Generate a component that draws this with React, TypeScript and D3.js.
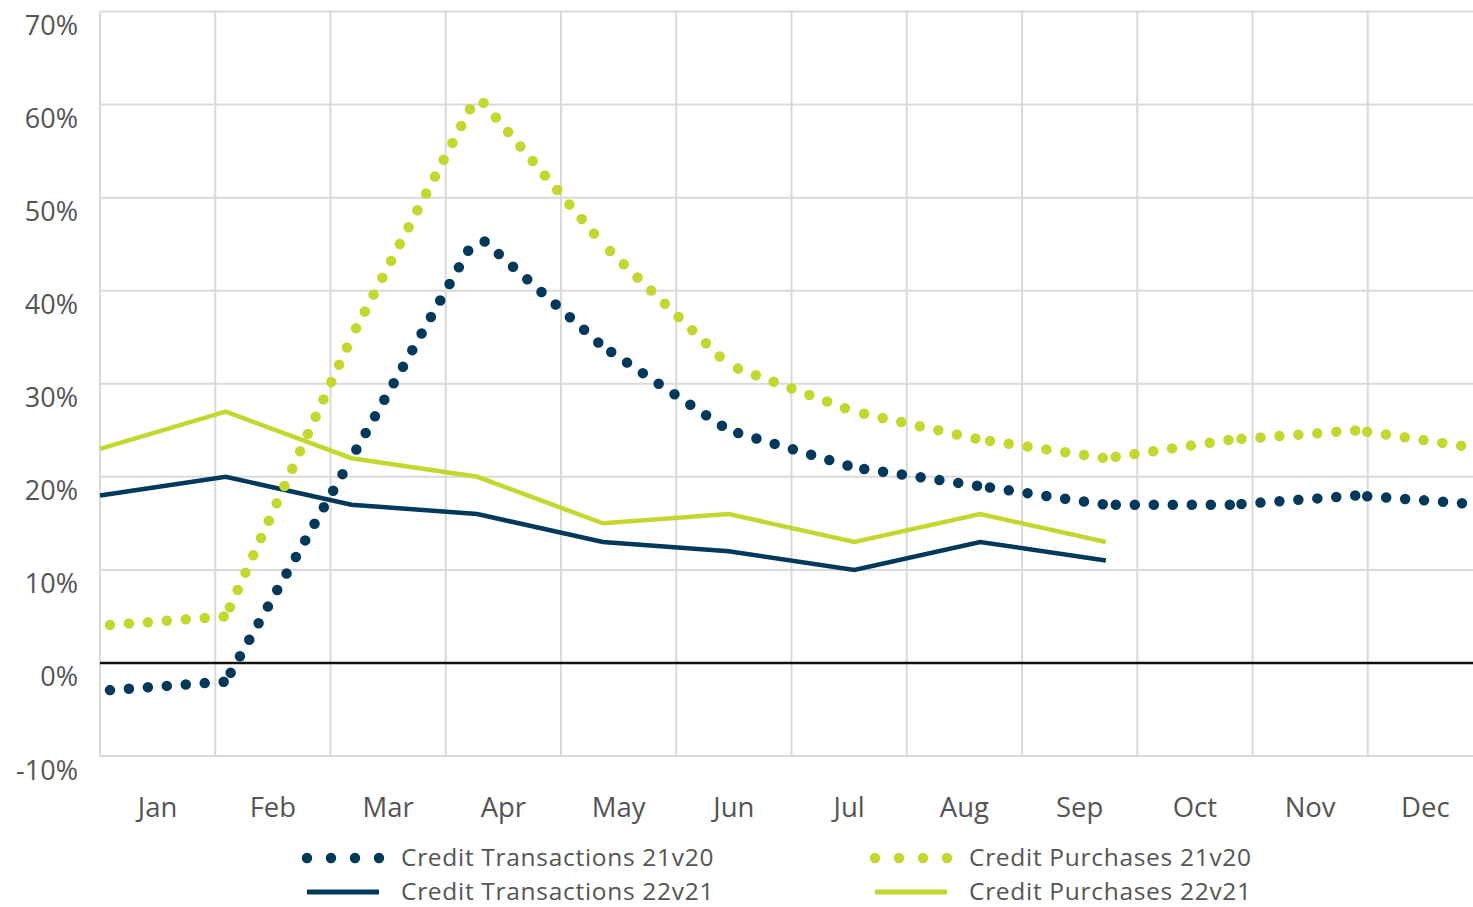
import React from "react";
import * as d3 from "d3";

const months = ["Jan", "Feb", "Mar", "Apr", "May", "Jun", "Jul", "Aug", "Sep", "Oct", "Nov", "Dec"];
const yTicks = [-10, 0, 10, 20, 30, 40, 50, 60, 70];

// Year-on-year growth, %
const transactions21v20 = [-3, -2, 22, 46, 34, 25, 21, 19, 17, 17, 18, 17];
const purchases21v20 = [4, 5, 35, 61, 45, 32, 27, 24, 22, 24, 25, 23];
const transactions22v21 = [18, 20, 17, 16, 13, 12, 10, 13, 11];
const purchases22v21 = [23, 27, 22, 20, 15, 16, 13, 16, 13];

const NAVY = "#00395b";
const LIME = "#c3d72f";
const GRID = "#d9d9d6";
const TEXT = "#545454";
const FONT = "'Open Sans', 'Noto Sans', sans-serif";

type Series = { name: string; values: number[]; color: string; dotted: boolean };

const series: Series[] = [
  { name: "Credit Transactions 21v20", values: transactions21v20, color: NAVY, dotted: true },
  { name: "Credit Transactions 22v21", values: transactions22v21, color: NAVY, dotted: false },
  { name: "Credit Purchases 21v20", values: purchases21v20, color: LIME, dotted: true },
  { name: "Credit Purchases 22v21", values: purchases22v21, color: LIME, dotted: false },
];

const legendRows: Series[][] = [
  [series[0], series[2]],
  [series[1], series[3]],
];

const W = 1473;
const H = 907;
const left = 100;
const right = 1483;
const top = 11.5;
const bottom = 756;

export default function App() {
  const x = d3.scalePoint<string>().domain(months).range([left, right]);
  const band = d3.scaleBand<string>().domain(months).range([left, right]).padding(0);
  const y = d3.scaleLinear().domain([-10, 70]).range([bottom, top]);

  const line = d3
    .line<[string, number]>()
    .x((d) => x(d[0]) as number)
    .y((d) => y(d[1]));

  const segments = (vals: number[]) =>
    d3.pairs(vals.map((v, i) => [months[i], v] as [string, number]));

  const vGrid = [...months.map((m) => band(m) as number), right];

  return (
    <div style={{ position: "absolute", left: 0, top: 0, width: W, height: H, overflow: "hidden", background: "#fff" }}>
      <svg width={W} height={H} style={{ display: "block" }}>
        <rect width={W} height={H} fill="#fff" />
        {/* grid */}
        {yTicks.map((t) => (
          <line key={"h" + t} x1={left} x2={right} y1={y(t)} y2={y(t)} stroke={GRID} strokeWidth={2} />
        ))}
        {vGrid.map((gx, i) => (
          <line key={"v" + i} x1={gx} x2={gx} y1={top} y2={bottom} stroke={GRID} strokeWidth={2} />
        ))}
        <line x1={left} x2={right} y1={y(0)} y2={y(0)} stroke="#111" strokeWidth={2.5} />

        {/* y tick labels */}
        {yTicks.map((t) => (
          <text
            key={"yt" + t}
            x={78}
            y={y(t) + 23.5}
            textAnchor="end"
            fontFamily={FONT}
            fontSize={27}
            fill={TEXT}
          >
            {t + "%"}
          </text>
        ))}

        {/* month labels */}
        {months.map((m) => (
          <text
            key={"xt" + m}
            x={(band(m) as number) + band.bandwidth() / 2}
            y={817}
            textAnchor="middle"
            fontFamily={FONT}
            fontSize={27.5}
            fill={TEXT}
          >
            {m}
          </text>
        ))}

        {/* series */}
        {series.map((s) =>
          s.dotted ? (
            <g key={s.name}>
              {segments(s.values).map((seg, i) => (
                <path
                  key={i}
                  d={line(seg) as string}
                  fill="none"
                  stroke={s.color}
                  strokeWidth={10.5}
                  strokeLinecap="round"
                  strokeDasharray="0 19"
                  strokeDashoffset={-10}
                />
              ))}
            </g>
          ) : (
            <path
              key={s.name}
              d={line(s.values.map((v, i) => [months[i], v] as [string, number])) as string}
              fill="none"
              stroke={s.color}
              strokeWidth={4.5}
              strokeLinejoin="miter"
            />
          )
        )}

        {/* legend */}
        {legendRows.map((row, r) =>
          row.map((s, c) => {
            const sx = c === 0 ? 307 : 875;
            const cy = r === 0 ? 858 : 892;
            return (
              <g key={s.name}>
                {s.dotted ? (
                  d3.range(4).map((k) => (
                    <circle key={k} cx={sx + k * 24} cy={cy} r={5.2} fill={s.color} />
                  ))
                ) : (
                  <line x1={sx} x2={sx + 72} y1={cy} y2={cy} stroke={s.color} strokeWidth={5} />
                )}
                <text
                  x={sx + 94}
                  y={r === 0 ? 866.3 : 899.7}
                  fontFamily={FONT}
                  fontSize={24.5}
                  letterSpacing={0.7}
                  fill={TEXT}
                >
                  {s.name}
                </text>
              </g>
            );
          })
        )}
      </svg>
    </div>
  );
}
